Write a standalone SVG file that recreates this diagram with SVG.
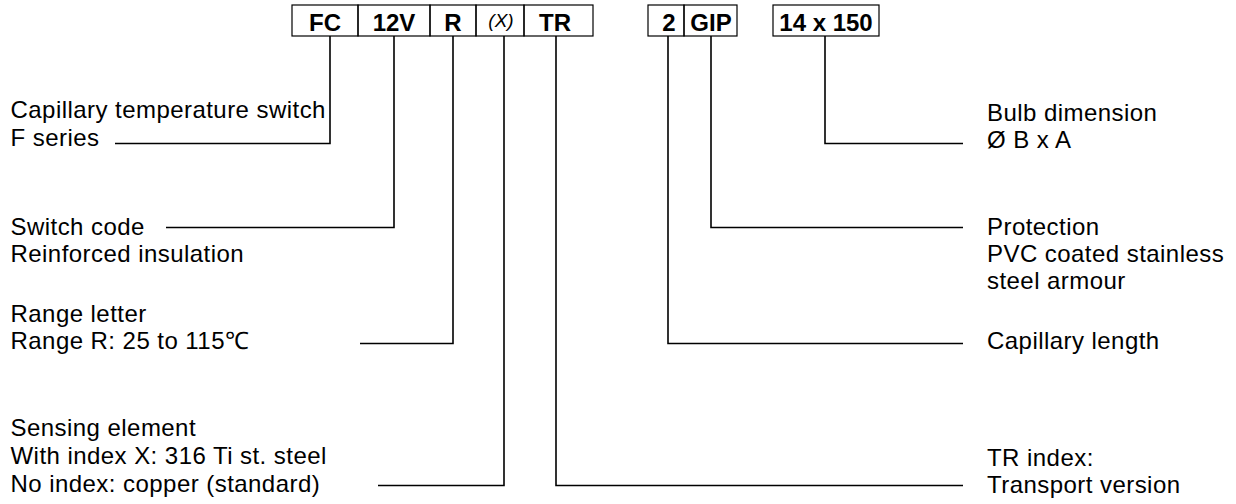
<svg xmlns="http://www.w3.org/2000/svg" width="1236" height="504" viewBox="0 0 1236 504">
<style>
.bg{fill:#fff}
.box{fill:none;stroke:#000;stroke-width:1.2}
.code{font-family:"Liberation Sans",Arial,sans-serif;font-size:24px;font-weight:bold;fill:#000;text-anchor:middle}
.idx{font-family:"Liberation Sans",Arial,sans-serif;font-size:19px;font-style:italic;fill:#000;text-anchor:middle}
.lbl{font-family:"Liberation Sans",Arial,sans-serif;font-size:24px;letter-spacing:0.45px;fill:#000}
.conn{fill:none;stroke:#000;stroke-width:1.6}
</style>
<rect class="bg" x="0" y="0" width="1236" height="504"/>
<g id="code-boxes">
  <g id="box-FC"><rect class="box" x="292" y="5" width="66" height="31"/><text class="code" x="325" y="31">FC</text></g>
  <g id="box-12V"><rect class="box" x="358" y="5" width="72" height="31"/><text class="code" x="394" y="31">12V</text></g>
  <g id="box-R"><rect class="box" x="430" y="5" width="46" height="31"/><text class="code" x="453" y="31">R</text></g>
  <g id="box-X"><rect class="box" x="476" y="5" width="48" height="31"/><text class="idx" x="501" y="27">(X)</text></g>
  <g id="box-TR"><rect class="box" x="524" y="5" width="69" height="31"/><text class="code" x="555" y="31">TR</text></g>
  <g id="box-2"><rect class="box" x="648" y="5" width="36" height="31"/><text class="code" x="669" y="31">2</text></g>
  <g id="box-GIP"><rect class="box" x="684" y="5" width="53" height="31"/><text class="code" x="711" y="31">GIP</text></g>
  <g id="box-bulb"><rect class="box" x="773" y="5" width="106" height="31"/><text class="code" x="826" y="31">14 x 150</text></g>
</g>
<g id="connectors">
  <polyline class="conn" points="330,36 330,143.5 115,143.5"/>
  <polyline class="conn" points="394,36 394,227.5 166,227.5"/>
  <polyline class="conn" points="453,36 453,343.5 360,343.5"/>
  <polyline class="conn" points="504,36 504,485.5 378,485.5"/>
  <polyline class="conn" points="556,36 556,485.5 963,485.5"/>
  <polyline class="conn" points="668,36 668,343.5 963,343.5"/>
  <polyline class="conn" points="711,36 711,227.5 963,227.5"/>
  <polyline class="conn" points="825,36 825,143.5 963,143.5"/>
</g>
<g id="label-series"><text class="lbl" x="10.5" y="118">Capillary temperature switch</text><text class="lbl" x="10.5" y="146">F series</text></g>
<g id="label-switch"><text class="lbl" x="10.5" y="235">Switch code</text><text class="lbl" x="10.5" y="262">Reinforced insulation</text></g>
<g id="label-range"><text class="lbl" x="10.5" y="321.5">Range letter</text><text class="lbl" x="10.5" y="348.5">Range R: 25 to 115℃</text></g>
<g id="label-sensing"><text class="lbl" x="10.5" y="436">Sensing element</text><text class="lbl" x="10.5" y="464">With index X: 316 Ti st. steel</text><text class="lbl" x="10.5" y="491.5">No index: copper (standard)</text></g>
<g id="label-bulb"><text class="lbl" x="987" y="120.5">Bulb dimension</text><text class="lbl" x="987" y="148">Ø B x A</text></g>
<g id="label-protection"><text class="lbl" x="987" y="235">Protection</text><text class="lbl" x="987" y="262">PVC coated stainless</text><text class="lbl" x="987" y="289">steel armour</text></g>
<g id="label-capillary"><text class="lbl" x="987" y="349">Capillary length</text></g>
<g id="label-tr"><text class="lbl" x="987" y="466">TR index:</text><text class="lbl" x="987" y="493">Transport version</text></g>
</svg>
